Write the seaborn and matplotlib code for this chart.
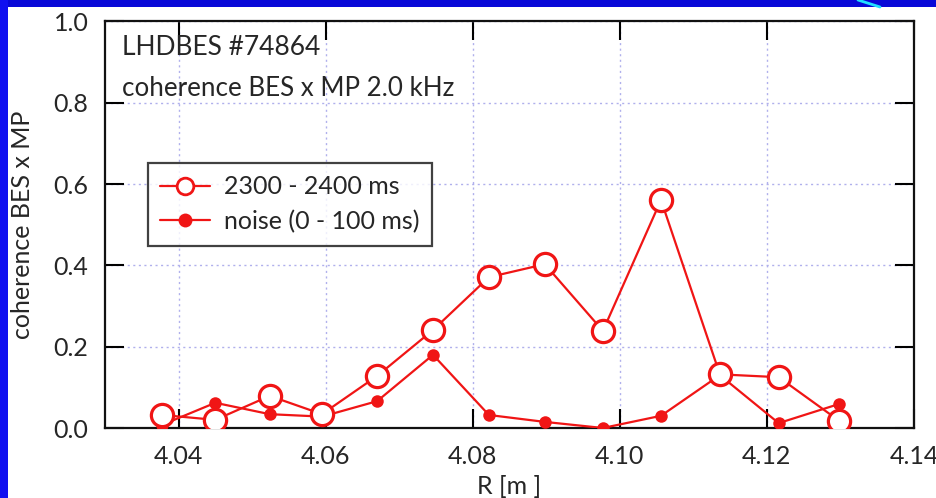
import matplotlib
matplotlib.use("Agg")
import matplotlib.pyplot as plt
import seaborn as sns
import pandas as pd
from matplotlib.lines import Line2D
from matplotlib.patches import Rectangle

# ---- data ----
R_open = [4.0378, 4.0450, 4.0524, 4.0595, 4.0670, 4.0746, 4.0822, 4.0898, 4.0977, 4.1056, 4.1136, 4.1216, 4.1298]
coh_open = [0.032, 0.020, 0.079, 0.034, 0.128, 0.241, 0.371, 0.403, 0.239, 0.561, 0.132, 0.125, 0.018]
R_noise = R_open
coh_noise = [0.008, 0.062, 0.034, 0.028, 0.066, 0.180, 0.032, 0.015, 0.000, 0.030, 0.130, 0.012, 0.059]

label_open = "2300 - 2400 ms"
label_noise = "noise (0 - 100 ms)"
xticks = [4.04, 4.06, 4.08, 4.10, 4.12, 4.14]
yticks = [0.0, 0.2, 0.4, 0.6, 0.8, 1.0]

sns.set_theme(style="white")
plt.rcParams['font.family'] = ['Lato', 'DejaVu Sans']
plt.rcParams['figure.facecolor'] = 'white'
plt.rcParams['savefig.facecolor'] = 'white'

RED = '#f01515'
FS = 18

fig = plt.figure(figsize=(9.37, 4.98), dpi=100, facecolor='white')
ax = fig.add_axes([105/937, 1 - 428/498, (914-105)/937, (428-21.5)/498])

df_open = pd.DataFrame({'R': R_open, 'c': coh_open})
df_noise = pd.DataFrame({'R': R_noise, 'c': coh_noise})

sns.lineplot(data=df_noise, x='R', y='c', ax=ax, color=RED, lw=1.6,
             marker='o', markersize=9, markerfacecolor=RED, markeredgecolor=RED,
             markeredgewidth=0, sort=False, zorder=3)
sns.lineplot(data=df_open, x='R', y='c', ax=ax, color=RED, lw=1.6,
             marker='o', markersize=16, markerfacecolor='white', markeredgecolor=RED,
             markeredgewidth=2.3, sort=False, zorder=4)

ax.set_xlim(4.03, 4.14)
ax.set_ylim(0, 1.0)
ax.set_xticks(xticks)
ax.set_yticks(yticks)
ax.set_xticklabels([f"{v:.2f}" for v in xticks])
ax.set_yticklabels([f"{v:.1f}" for v in yticks])
ax.tick_params(direction='in', length=14, width=1.5, color='black',
               top=True, right=True, bottom=True, left=True,
               labelsize=FS, pad=12)
for s in ax.spines.values():
    s.set_linewidth(1.6)
    s.set_color('#111111')
ax.grid(True, linestyle=(0, (1.5, 2.5)), color='#b0b0ec', lw=1.0)
ax.set_axisbelow(True)

ax.set_xlabel("R [m ]", fontsize=FS, labelpad=5)
ax.set_ylabel("coherence BES x MP", fontsize=FS, labelpad=14)

ax.text(0.021, 0.937, "LHDBES #74864", transform=ax.transAxes, fontsize=19,
        va='center', ha='left')
ax.text(0.021, 0.836, "coherence BES x MP 2.0 kHz", transform=ax.transAxes, fontsize=18.7,
        va='center', ha='left')

handles = [
    Line2D([], [], color=RED, lw=1.6, marker='o', markersize=12,
           markerfacecolor='white', markeredgecolor=RED, markeredgewidth=2.0),
    Line2D([], [], color=RED, lw=1.6, marker='o', markersize=10,
           markerfacecolor=RED, markeredgecolor=RED, markeredgewidth=0),
]
leg = ax.legend(handles, [label_open, label_noise], loc='upper left',
                bbox_to_anchor=((148-105)/809, (428-163)/406.5), borderaxespad=0,
                fontsize=FS, frameon=True, fancybox=False, handlelength=2.0,
                handletextpad=0.55, labelspacing=0.45, borderpad=0.5)
leg.get_frame().set_edgecolor('#111111')
leg.get_frame().set_linewidth(1.6)

# slide frame (blue band top and left, cyan stroke)
fig.add_artist(Rectangle((0, 1 - 7/498), 1, 7/498, transform=fig.transFigure,
                         facecolor='#0808d8', edgecolor='none', zorder=10))
fig.add_artist(Rectangle((0, 0), 8/937, 1, transform=fig.transFigure,
                         facecolor='#1010f0', edgecolor='none', zorder=10))
fig.add_artist(Line2D([858/937, 880/937], [1, 1 - 7/498], transform=fig.transFigure,
                      color='#20e0ff', lw=2, zorder=11))

fig.savefig("out.png", dpi=100, facecolor='white')
